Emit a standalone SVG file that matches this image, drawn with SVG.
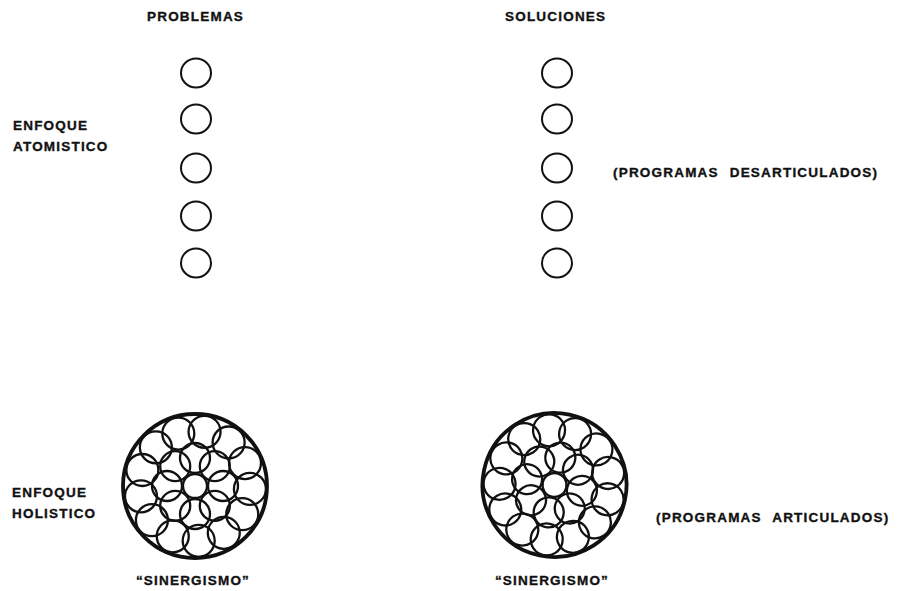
<svg xmlns="http://www.w3.org/2000/svg" xmlns:xlink="http://www.w3.org/1999/xlink" width="897" height="591" viewBox="0 0 897 591">
  <style>
    .t { font-family: "Liberation Sans", Arial, sans-serif; font-weight: bold; font-size: 13.5px; letter-spacing: 1.2px; fill: #111; stroke: #111; stroke-width: 0.35px; }
    .ws { word-spacing: 6px; }
    .small { fill: none; stroke: #111; stroke-width: 2; }
    .outer { fill: none; stroke: #111; stroke-width: 3.8; }
    .inner { fill: none; stroke: #111; stroke-width: 2.3; }
  </style>
  <defs>
    <g id="cluster">
      <circle class="inner" cx="0" cy="0" r="12"/>
      <circle class="inner" cx="0" cy="-28" r="15"/>
      <circle class="inner" cx="19.8" cy="-19.8" r="15"/>
      <circle class="inner" cx="28" cy="0" r="15"/>
      <circle class="inner" cx="19.8" cy="19.8" r="15"/>
      <circle class="inner" cx="0" cy="28" r="15"/>
      <circle class="inner" cx="-19.8" cy="19.8" r="15"/>
      <circle class="inner" cx="-28" cy="0" r="15"/>
      <circle class="inner" cx="-19.8" cy="-19.8" r="15"/>
      <circle class="inner" cx="9.55" cy="-54.16" r="16"/>
      <circle class="inner" cx="33.63" cy="-43.52" r="16"/>
      <circle class="inner" cx="50.0" cy="-22.91" r="16"/>
      <circle class="inner" cx="54.92" cy="2.95" r="16"/>
      <circle class="inner" cx="47.26" cy="28.14" r="16"/>
      <circle class="inner" cx="28.78" cy="46.87" r="16"/>
      <circle class="inner" cx="3.69" cy="54.87" r="16"/>
      <circle class="inner" cx="-22.24" cy="50.30" r="16"/>
      <circle class="inner" cx="-43.08" cy="34.19" r="16"/>
      <circle class="inner" cx="-54.03" cy="10.28" r="16"/>
      <circle class="inner" cx="-52.62" cy="-16.01" r="16"/>
      <circle class="inner" cx="-39.15" cy="-38.63" r="16"/>
      <circle class="inner" cx="-16.71" cy="-52.40" r="16"/>
      <circle class="outer" cx="0" cy="0" r="72"/>
    </g>
  </defs>
  <rect width="897" height="591" fill="#fff"/>

  <g id="labels">
    <text class="t" x="147" y="21">PROBLEMAS</text>
    <text class="t" x="505" y="21">SOLUCIONES</text>
    <text class="t" x="13" y="130">ENFOQUE</text>
    <text class="t" x="13" y="151">ATOMISTICO</text>
    <text class="t ws" x="613" y="177">(PROGRAMAS DESARTICULADOS)</text>
    <text class="t" x="12" y="497">ENFOQUE</text>
    <text class="t" x="12" y="518">HOLISTICO</text>
    <text class="t ws" x="656" y="522">(PROGRAMAS ARTICULADOS)</text>
    <text class="t" x="193" y="585" text-anchor="middle">“SINERGISMO”</text>
    <text class="t" x="552" y="585" text-anchor="middle">“SINERGISMO”</text>
  </g>

  <g id="problemas-atomistico">
    <ellipse class="small" cx="196" cy="73" rx="15" ry="14.5"/>
    <ellipse class="small" cx="196" cy="119" rx="15" ry="14.5"/>
    <ellipse class="small" cx="196" cy="168" rx="15" ry="14.5"/>
    <ellipse class="small" cx="196" cy="216" rx="15" ry="14.5"/>
    <ellipse class="small" cx="196" cy="263" rx="15" ry="14.5"/>
  </g>
  <g id="soluciones-atomistico">
    <ellipse class="small" cx="557" cy="73" rx="15" ry="14.5"/>
    <ellipse class="small" cx="557" cy="119" rx="15" ry="14.5"/>
    <ellipse class="small" cx="557" cy="168" rx="15" ry="14.5"/>
    <ellipse class="small" cx="557" cy="216" rx="15" ry="14.5"/>
    <ellipse class="small" cx="557" cy="263" rx="15" ry="14.5"/>
  </g>
  <g id="problemas-holistico">
    <use xlink:href="#cluster" href="#cluster" transform="translate(195 486)"/>
  </g>
  <g id="soluciones-holistico">
    <use xlink:href="#cluster" href="#cluster" transform="translate(554.5 485) rotate(12)"/>
  </g>
  <g id="connectors"/>
</svg>
